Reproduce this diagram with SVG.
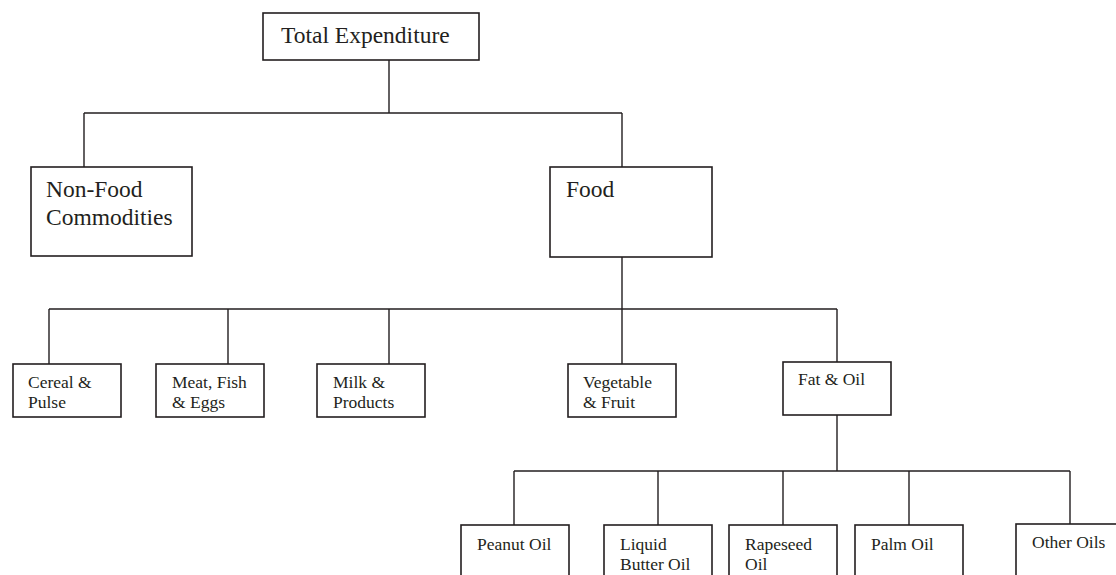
<svg xmlns="http://www.w3.org/2000/svg" width="1116" height="575" viewBox="0 0 1116 575">
<style>
.box{fill:#fff;stroke:#231f20;stroke-width:1.6}
.big{font-family:"Liberation Serif","Times New Roman",serif;font-size:23.5px;fill:#231f20}
.sm{font-family:"Liberation Serif","Times New Roman",serif;font-size:17.5px;fill:#231f20}
.ln{fill:none;stroke:#231f20;stroke-width:1.4}
</style>
<rect width="1116" height="575" fill="#fff"/>
<g id="connectors" class="ln">
<path d="M389,60 V113 M84,113 H622 M84,113 V167 M622,113 V167"/>
<path d="M622,257 V364 M49,309 H837 M49,309 V364 M228,309 V364 M389,309 V364 M837,309 V362"/>
<path d="M837,415 V471 M514,471 H1070 M514,471 V525 M658,471 V525 M783,471 V525 M909,471 V525 M1070,471 V524"/>
</g>
<g id="total"><rect class="box" x="263" y="13" width="216" height="47"/><text class="big" x="281" y="43">Total Expenditure</text></g>
<g id="nonfood"><rect class="box" x="31" y="167" width="161" height="89"/><text class="big" x="46" y="197">Non-Food</text><text class="big" x="46" y="225">Commodities</text></g>
<g id="food"><rect class="box" x="550" y="167" width="162" height="90"/><text class="big" x="566" y="197">Food</text></g>
<g id="cereal"><rect class="box" x="13" y="364" width="108" height="53"/><text class="sm" x="28" y="388">Cereal &amp;</text><text class="sm" x="28" y="408">Pulse</text></g>
<g id="meat"><rect class="box" x="156" y="364" width="108" height="53"/><text class="sm" x="172" y="388">Meat, Fish</text><text class="sm" x="172" y="408">&amp; Eggs</text></g>
<g id="milk"><rect class="box" x="317" y="364" width="108" height="53"/><text class="sm" x="333" y="388">Milk &amp;</text><text class="sm" x="333" y="408">Products</text></g>
<g id="veg"><rect class="box" x="568" y="364" width="108" height="53"/><text class="sm" x="583" y="388">Vegetable</text><text class="sm" x="583" y="408">&amp; Fruit</text></g>
<g id="fatoil"><rect class="box" x="783" y="362" width="108" height="53"/><text class="sm" x="798" y="385">Fat &amp; Oil</text></g>
<g id="peanut"><rect class="box" x="461" y="525" width="108" height="70"/><text class="sm" x="477" y="550">Peanut Oil</text></g>
<g id="liquid"><rect class="box" x="604" y="525" width="108" height="70"/><text class="sm" x="620" y="550">Liquid</text><text class="sm" x="620" y="570">Butter Oil</text></g>
<g id="rapeseed"><rect class="box" x="729" y="525" width="108" height="70"/><text class="sm" x="745" y="550">Rapeseed</text><text class="sm" x="745" y="570">Oil</text></g>
<g id="palm"><rect class="box" x="855" y="525" width="108" height="70"/><text class="sm" x="871" y="550">Palm Oil</text></g>
<g id="other"><rect class="box" x="1016" y="524" width="120" height="70"/><text class="sm" x="1032" y="548">Other Oils</text></g>
</svg>
